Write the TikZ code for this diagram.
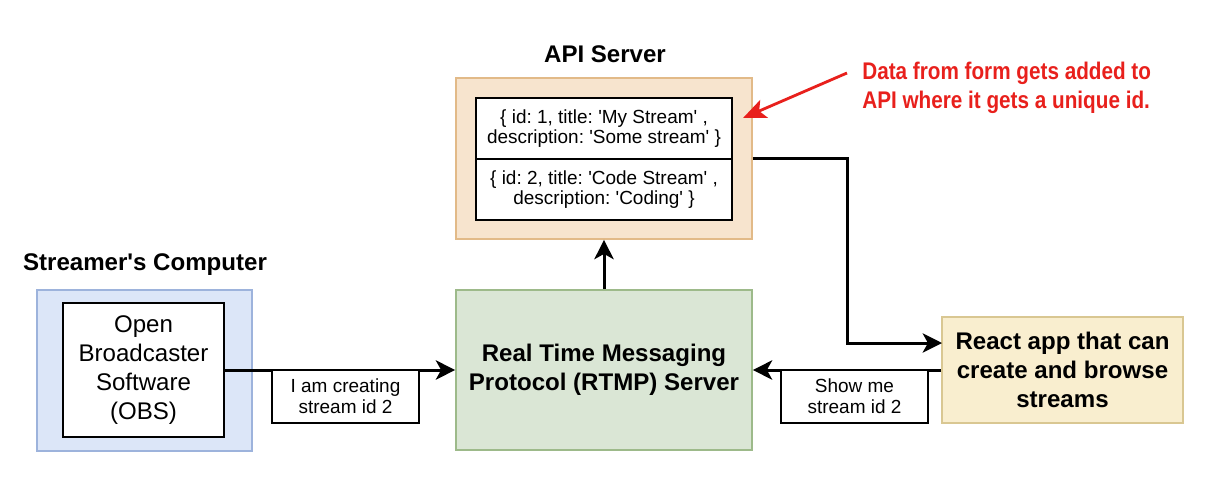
\documentclass[tikz,border=0pt]{standalone}
\usepackage{fontspec}
\setmainfont{Liberation Sans}
\newfontfamily\notefont[FakeStretch=0.86]{Liberation Sans}
\usetikzlibrary{arrows.meta}
\definecolor{obsfill}{HTML}{DCE6F8}
\definecolor{obsline}{HTML}{9DB3DC}
\definecolor{apifill}{HTML}{F7E4CE}
\definecolor{apiline}{HTML}{E2BA88}
\definecolor{rtmpfill}{HTML}{DAE6D5}
\definecolor{rtmpline}{HTML}{9DBA8A}
\definecolor{reactfill}{HTML}{F9EECF}
\definecolor{reactline}{HTML}{D9C792}
\definecolor{notered}{HTML}{E8201C}
\newcommand*{\bigtext}{\fontsize{13.7}{16.4}\selectfont}
\newcommand*{\smalltext}{\fontsize{10.8}{11.8}\selectfont}
\newcommand*{\q}{\textquotesingle}
\frenchspacing

\begin{document}
\begin{tikzpicture}[x=0.02cm,y=-0.02cm,
    >={Stealth[length=11pt,width=11pt,inset=3pt]},
    flow/.style={->,line width=1.7pt},
    group/.style={draw,line width=1pt,inner sep=0pt},
    inner/.style={draw,line width=1.1pt,fill=white,align=center,inner sep=0pt},
    label/.style={inner,font=\smalltext,minimum width=2.94cm,minimum height=1.06cm},
    title/.style={font=\bigtext\bfseries}]
    \useasboundingbox (0,0) rectangle (1220,484);

    % groups
    \node[group,fill=obsfill,draw=obsline,minimum width=4.3cm,minimum height=3.22cm] (computer) at (144.5,370.5) {};
    \node[title] (computertitle) at (145,265) {Streamer\q s Computer};
    \node[inner,font=\bigtext,minimum width=3.22cm,minimum height=2.68cm] (obs) at (143.5,370) {Open\\Broadcaster\\Software\\(OBS)};

    \node[group,fill=apifill,draw=apiline,minimum width=5.92cm,minimum height=3.22cm] (api) at (604,158.5) {};
    \node[title] (apititle) at (605,54) {API Server};
    \node[inner,font=\smalltext,minimum width=5.12cm,minimum height=1.22cm] (recordone) at (604,128.5) {\{ id: 1, title: \q My Stream\q\ ,\\description: \q Some stream\q\ \}};
    \node[inner,font=\smalltext,minimum width=5.12cm,minimum height=1.22cm] (recordtwo) at (604,189.5) {\{ id: 2, title: \q Code Stream\q\ ,\\description: \q Coding\q\ \}};

    \node[group,fill=rtmpfill,draw=rtmpline,align=center,font=\bigtext\bfseries,minimum width=5.92cm,minimum height=3.2cm] (rtmp) at (604,370) {Real Time Messaging\\Protocol (RTMP) Server};

    \node[group,fill=reactfill,draw=reactline,align=center,font=\bigtext\bfseries,minimum width=4.82cm,minimum height=2.12cm] (react) at (1062.5,370) {React app that can\\create and browse\\streams};

    % connectors
    \coordinate (turn) at (847,343);
    \coordinate (reactin) at (942,343);
    \draw[flow] (obs.east) -- (rtmp.west);
    \draw[flow] (rtmp.north) -- (api.south);
    \draw[flow] (api.east) -| (turn) -- (reactin);
    \draw[flow] (react.west) -- (rtmp.east);

    \node[label] (creating) at (345.5,396.5) {I am creating\\stream id 2};
    \node[label] (showme) at (854.5,396.5) {Show me\\stream id 2};

    % note
    \node[anchor=west,align=left,text=notered,font=\notefont\bigtext\bfseries,inner sep=0pt] (note) at (862,87.5) {Data from form gets added to\\API where it gets a unique id.};
    \coordinate (notetail) at (847,73);
    \coordinate (notetip) at (743,118);
    \draw[->,>={Stealth[length=13pt,width=11pt,inset=3pt]},notered,line width=1.6pt] (notetail) -- (notetip);
\end{tikzpicture}
\end{document}
